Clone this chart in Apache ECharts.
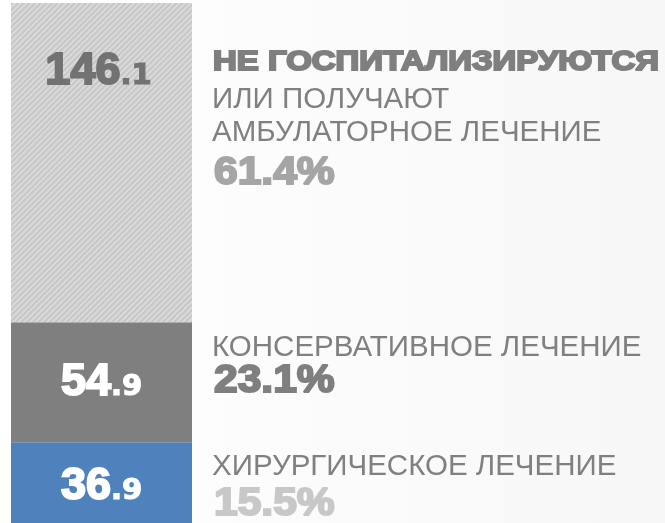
<!DOCTYPE html>
<html>
<head>
<meta charset="utf-8">
<script src="https://cdn.jsdelivr.net/npm/echarts@6/dist/echarts.min.js"></script>
<style>
  html, body { margin: 0; padding: 0; }
  #chart { width: 665px; height: 523px; }
</style>
</head>
<body>
<div id="chart"></div>
<script>
// bottom to top
var segments = ["surgery", "conservative", "outpatient"];
var values = [36.9, 54.9, 146.1];
var shares = ["15.5%", "23.1%", "61.4%"];
var headLines = [
  ["ХИРУРГИЧЕСКОЕ ЛЕЧЕНИЕ"],
  ["КОНСЕРВАТИВНОЕ ЛЕЧЕНИЕ"],
  ["ИЛИ ПОЛУЧАЮТ", "АМБУЛАТОРНОЕ ЛЕЧЕНИЕ"]
];
var boldHead = "НЕ ГОСПИТАЛИЗИРУЮТСЯ";

var total = values.reduce(function (a, b) { return a + b; }, 0);
var barColors = ["#4f81bd", "#7f7f7f", "#c6c6c6"];
var labelColors = ["#ffffff", "#ffffff", "#727272"];
var shareColors = ["#c8c8c8", "#7f7f7f", "#a5a5a5"];
var FONT = "'Liberation Sans', Arial, sans-serif";

function splitLabel(v) {
  var s = v.toFixed(1).split(".");
  return "{a|" + s[0] + "}{b|." + s[1] + "}";
}

var chart = echarts.init(document.getElementById("chart"));

var series = values.map(function (v, i) {
  var c = labelColors[i];
  var label = {
    show: true,
    formatter: function (p) { return splitLabel(p.value); },
    rich: {
      a: { fontFamily: FONT, fontWeight: "bold", fontSize: 45, color: c,
           textBorderColor: c, textBorderWidth: 2, lineHeight: 46, verticalAlign: "bottom" },
      b: { fontFamily: "DejaVu Sans", fontWeight: "bold", fontSize: 29, color: c,
           textBorderColor: c, textBorderWidth: 1.2, lineHeight: 46, verticalAlign: "bottom",
           padding: [0, 0, 3, 0] }
    }
  };
  if (i === 2) {
    label.position = "insideTop";
    label.distance = 45;
    label.offset = [-3, 0];
  } else {
    label.position = "inside";
    label.offset = [0, i === 1 ? 0 : 3];
  }
  var item = { color: barColors[i] };
  if (i === 2) {
    item.decal = {
      symbol: "rect",
      symbolSize: 1,
      dashArrayX: [[1, 0]],
      dashArrayY: [2, 2],
      rotation: -Math.PI / 4,
      color: "rgba(255,255,255,0.35)"
    };
  }
  return {
    name: segments[i],
    type: "bar",
    stack: "total",
    barWidth: "100%",
    data: [v],
    itemStyle: item,
    label: label,
    silent: true
  };
});

var graphics = [];
function addText(txt, x, y, size, weight, color, sx, stroke) {
  graphics.push({
    type: "text",
    x: x,
    y: y,
    scaleX: sx,
    silent: true,
    style: {
      text: txt,
      x: 0,
      y: 0,
      fill: color,
      font: weight + " " + size + "px " + FONT,
      align: "left",
      verticalAlign: "middle",
      stroke: stroke ? color : null,
      lineWidth: stroke || 0
    }
  });
}

// right-hand captions
addText(boldHead, 213, 63, 27, "bold", "#7f7f7f", 1.22, 2);
addText(headLines[2][0], 212, 100, 29.5, "normal", "#808080", 1);
addText(headLines[2][1], 212, 133, 29.5, "normal", "#808080", 1);
addText(shares[2], 214, 174, 38, "bold", shareColors[2], 1.12, 2);
addText(headLines[1][0], 212, 348, 29.5, "normal", "#808080", 1);
addText(shares[1], 214, 382, 38, "bold", shareColors[1], 1.12, 2);
addText(headLines[0][0], 212, 467, 29.5, "normal", "#808080", 1);
addText(shares[0], 214, 505, 38, "bold", shareColors[0], 1.12, 2);

chart.setOption({
  backgroundColor: {
    type: "linear", x: 0, y: 0, x2: 1, y2: 0,
    colorStops: [{ offset: 0, color: "#ffffff" }, { offset: 1, color: "#f7f7f7" }]
  },
  animation: false,
  grid: { left: 11, width: 181, top: 3, height: 523 },
  xAxis: { type: "category", data: ["all"], show: false },
  yAxis: { type: "value", min: 0, max: total, show: false },
  series: series,
  graphic: graphics
});
</script>
</body>
</html>
